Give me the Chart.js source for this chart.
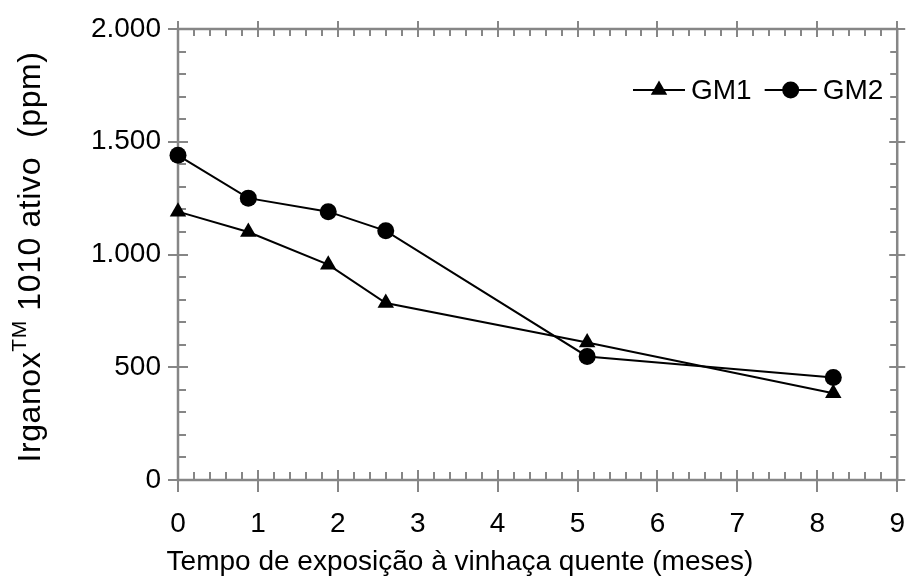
<!DOCTYPE html>
<html>
<head>
<meta charset="utf-8">
<script src="https://cdn.jsdelivr.net/npm/chart.js@4.4.0/dist/chart.umd.min.js"></script>
<style>
  body { margin: 0; background: #fff; }
  canvas { display: block; }
</style>
</head>
<body>
<canvas id="grafico" width="924" height="588"></canvas>
<script>
// tempo de exposicao (meses) e Irganox 1010 ativo (ppm)
const meses = [0, 0.88, 1.88, 2.6, 5.12, 8.2];
const gm1 = [1190, 1100, 955, 785, 610, 385];
const gm2 = [1440, 1250, 1190, 1105, 548, 455];
const xTicks = [0, 1, 2, 3, 4, 5, 6, 7, 8, 9];
const yTicks = [0, 500, 1000, 1500, 2000];

const fonte = '"Liberation Sans", Arial, sans-serif';
const cinza = '#868686';

function formata(v) {
    // separador de milhar com ponto
    return String(v).replace(/\B(?=(\d{3})+(?!\d))/g, '.');
}

const eixos = {
    id: 'eixos',
    beforeDatasetsDraw(chart) {
        const { ctx, chartArea: a, scales: { x, y } } = chart;
        ctx.save();
        ctx.strokeStyle = cinza;
        ctx.lineWidth = 2;
        // ticks menores
        for (let v = 0; v <= 9.001; v += 0.2) {
            const px = Math.round(x.getPixelForValue(v));
            ctx.beginPath();
            ctx.moveTo(px, a.bottom); ctx.lineTo(px, a.bottom - 8);
            ctx.moveTo(px, a.top); ctx.lineTo(px, a.top + 7);
            ctx.stroke();
        }
        for (let v = 0; v <= 2000; v += 100) {
            const py = Math.round(y.getPixelForValue(v));
            ctx.beginPath();
            ctx.moveTo(a.left, py); ctx.lineTo(a.left + 8, py);
            ctx.moveTo(a.right, py); ctx.lineTo(a.right - 7, py);
            ctx.stroke();
        }
        // ticks maiores
        xTicks.forEach(v => {
            const px = Math.round(x.getPixelForValue(v));
            ctx.beginPath();
            ctx.moveTo(px, a.bottom - 10); ctx.lineTo(px, a.bottom + 12);
            ctx.moveTo(px, a.top - 8); ctx.lineTo(px, a.top + 8);
            ctx.stroke();
        });
        yTicks.forEach(v => {
            const py = Math.round(y.getPixelForValue(v));
            ctx.beginPath();
            ctx.moveTo(a.left - 10, py); ctx.lineTo(a.left + 10, py);
            ctx.moveTo(a.right - 8, py); ctx.lineTo(a.right + 8, py);
            ctx.stroke();
        });
        // moldura
        ctx.lineWidth = 2.5;
        ctx.strokeRect(a.left, a.top, a.right - a.left, a.bottom - a.top);
        ctx.restore();
    },
    afterDraw(chart) {
        const { ctx } = chart;
        ctx.save();
        ctx.fillStyle = '#000';
        ctx.font = '28px ' + fonte;
        ctx.textBaseline = 'middle';
        // titulo eixo x
        ctx.textAlign = 'center';
        ctx.fillText('Tempo de exposição à vinhaça quente (meses)', 460, 562);
        // titulo eixo y com TM sobrescrito
        ctx.translate(31, 257);
        ctx.rotate(-Math.PI / 2);
        ctx.letterSpacing = '0.6px';
        const p1 = 'Irganox', p2 = 'TM', p3 = ' 1010 ativo  (ppm)';
        ctx.font = '32px ' + fonte;
        const w1 = ctx.measureText(p1).width, w3 = ctx.measureText(p3).width;
        ctx.font = '21px ' + fonte;
        const w2 = ctx.measureText(p2).width;
        let sx = -(w1 + w2 + w3) / 2;
        ctx.textAlign = 'left';
        ctx.font = '32px ' + fonte;
        ctx.fillText(p1, sx, 0);
        ctx.font = '21px ' + fonte;
        ctx.fillText(p2, sx + w1, -11);
        ctx.font = '32px ' + fonte;
        ctx.fillText(p3, sx + w1 + w2, 0);
        ctx.restore();

        // legenda
        ctx.save();
        ctx.font = '28px ' + fonte;
        ctx.textBaseline = 'middle';
        ctx.textAlign = 'left';
        let lx = 633;
        const ly = 90;
        chart.data.datasets.forEach(ds => {
            ctx.strokeStyle = '#000';
            ctx.lineWidth = 2;
            ctx.beginPath();
            ctx.moveTo(lx, ly); ctx.lineTo(lx + 52, ly);
            ctx.stroke();
            ctx.fillStyle = '#000';
            Chart.helpers.drawPoint(ctx, {
                pointStyle: ds.pointStyle, radius: ds.pointRadius, rotation: 0, borderWidth: 0
            }, lx + 26, ly);
            ctx.fillStyle = '#000';
            ctx.fillText(ds.label, lx + 58, ly + 1);
            lx += 58 + ctx.measureText(ds.label).width + 13;
        });
        ctx.restore();
    }
};

new Chart(document.getElementById('grafico'), {
    type: 'line',
    data: {
        datasets: [
            {
                label: 'GM1',
                data: meses.map((m, i) => ({ x: m, y: gm1[i] })),
                borderColor: '#000', backgroundColor: '#000', borderWidth: 2,
                pointStyle: 'triangle', pointRadius: 9.5, pointBorderWidth: 0,
                clip: false
            },
            {
                label: 'GM2',
                data: meses.map((m, i) => ({ x: m, y: gm2[i] })),
                borderColor: '#000', backgroundColor: '#000', borderWidth: 2,
                pointStyle: 'circle', pointRadius: 8.5, pointBorderWidth: 0,
                clip: false
            }
        ]
    },
    options: {
        responsive: false,
        animation: false,
        layout: { padding: { top: 29, right: 12, left: 0, bottom: 0 } },
        plugins: { legend: { display: false }, tooltip: { enabled: false } },
        scales: {
            x: {
                type: 'linear', min: 0, max: 9,
                afterBuildTicks: s => { s.ticks = xTicks.map(v => ({ value: v })); },
                afterFit: s => { s.height = 108; },
                grid: { display: false }, border: { display: false },
                ticks: { color: '#000', padding: 19, font: { family: fonte, size: 28 } }
            },
            y: {
                min: 0, max: 2000,
                afterBuildTicks: s => { s.ticks = yTicks.map(v => ({ value: v })); },
                afterFit: s => { s.width = 178; },
                grid: { display: false }, border: { display: false },
                ticks: { color: '#000', padding: 9, font: { family: fonte, size: 28 },
                    callback: v => formata(v) }
            }
        }
    },
    plugins: [eixos]
});
</script>
</body>
</html>
